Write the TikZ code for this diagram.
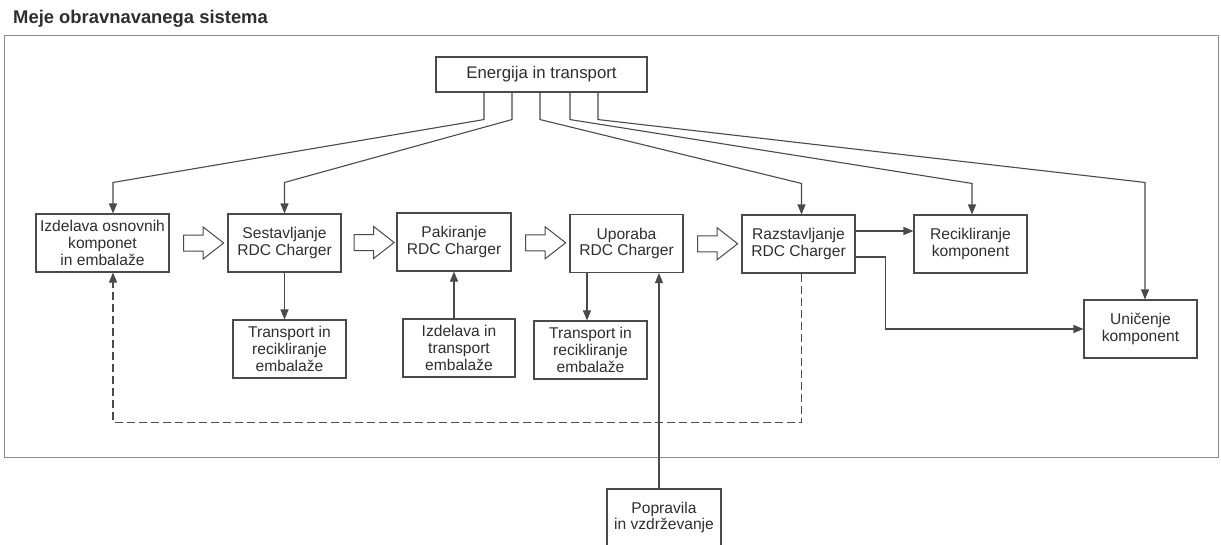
\documentclass[tikz,border=0pt]{standalone}
\usepackage{fontspec}
\setmainfont{Liberation Sans}
\usetikzlibrary{arrows.meta,calc,shapes.arrows}
\definecolor{linegray}{HTML}{4A4A4A}
\definecolor{textgray}{HTML}{2E2E2E}
\definecolor{framegray}{HTML}{8C8C8C}
\begin{document}
\begin{tikzpicture}[
		x=1pt, y=-1pt,
		box/.style={rectangle, draw=linegray, line width=1.1pt, minimum width=113pt, minimum height=58pt, inner sep=1pt, align=center, text=textgray, font=\fontsize{15.6}{16.8}\selectfont},
		arrow/.style={-{Triangle[length=10pt,width=8pt]}, draw=linegray, line width=1.1pt},
		back/.style={arrow, dash pattern=on 8pt off 4pt},
		bigarrow/.style={single arrow, draw=linegray, line width=1pt, fill=white, minimum height=40pt, inner sep=7.5pt, single arrow head extend=8pt, single arrow tip angle=76},
		title/.style={text=textgray, font=\fontsize{18.4}{20}\selectfont\bfseries, inner sep=0pt}
	]
	\useasboundingbox (0,0) rectangle (1221,544);
	% system boundary
	\node[title, anchor=base west] (title) at (13,23) {Meje obravnavanega sistema};
	\draw[framegray, line width=0.9pt] (4,35) rectangle (1218,457);

	% energy
	\node[box, minimum width=211pt, minimum height=35pt, font=\fontsize{16.8}{18}\selectfont] (energy) at (541.5,74.5) {Energija in transport};

	% main chain
	\node[box, minimum width=133pt] (izdelava) at (102.5,243) {Izdelava osnovnih\\komponet\\in embalaže};
	\node[box] (sestav) at (284.5,243) {Sestavljanje\\RDC Charger};
	\node[box, minimum width=114pt] (pakir) at (454,242) {Pakiranje\\RDC Charger};
	\node[box] (uporaba) at (626.5,243.5) {Uporaba\\RDC Charger};
	\node[box] (razstav) at (798.5,244) {Razstavljanje\\RDC Charger};
	\node[box] (recik) at (970.5,244) {Recikliranje\\komponent};
	\node[box] (unic) at (1140.5,329) {Uničenje\\komponent};

	% side boxes
	\node[box] (trans1) at (289.5,349) {Transport in\\recikliranje\\embalaže};
	\node[box, minimum width=112pt] (izdtrans) at (459,348) {Izdelava in\\transport\\embalaže};
	\node[box] (trans2) at (590.5,350) {Transport in\\recikliranje\\embalaže};
	\node[box, minimum width=114pt, minimum height=57pt] (popr) at (664,517.5) {Popravila\\in vzdrževanje};

	% block arrows
	\node[bigarrow] (ba1) at ($(izdelava.east)!0.5!(sestav.west)$) {};
	\node[bigarrow] (ba2) at ($(sestav.east)!0.5!(pakir.west)$) {};
	\node[bigarrow] (ba3) at ($(pakir.east)!0.5!(uporaba.west)$) {};
	\node[bigarrow] (ba4) at ($(uporaba.east)!0.5!(razstav.west)$) {};

	% energy supply
	\draw[arrow] ([xshift=-57.5pt]energy.south) -- ++(0,27) -- ([xshift=10.5pt,yshift=31pt]izdelava.north) -- ([xshift=10.5pt]izdelava.north);
	\draw[arrow] ([xshift=-29.5pt]energy.south) -- ++(0,27) -- ([yshift=31pt]sestav.north) -- (sestav.north);
	\draw[arrow] ([xshift=-1.5pt]energy.south) -- ++(0,27) -- ([xshift=3pt,yshift=31pt]razstav.north) -- ([xshift=3pt]razstav.north);
	\draw[arrow] ([xshift=28.5pt]energy.south) -- ++(0,27) -- ([xshift=1.5pt,yshift=31pt]recik.north) -- ([xshift=1.5pt]recik.north);
	\draw[arrow] ([xshift=56.5pt]energy.south) -- ++(0,27) -- ([xshift=4.5pt,yshift=117pt]unic.north) -- ([xshift=4.5pt]unic.north);

	% packaging and service
	\draw[arrow] (sestav.south) -- (sestav.south |- trans1.north);
	\draw[arrow] (pakir.south |- izdtrans.north) -- (pakir.south);
	\draw[arrow] ([xshift=-3.5pt]trans2.north |- uporaba.south) -- ([xshift=-3.5pt]trans2.north);
	\draw[arrow] ([xshift=-5pt]popr.north) -- ([xshift=-5pt]popr.north |- uporaba.south);

	% end of life
	\draw[arrow] ([yshift=13pt]razstav.east) -- ([yshift=13pt]recik.west);
	\draw[arrow] ([yshift=-13pt]razstav.east) -- ++(30,0) |- (unic.west);
	\draw[back] ([xshift=3pt]razstav.south) -- ++(0,149) -| ([xshift=10.5pt]izdelava.south);

\end{tikzpicture}
\end{document}
